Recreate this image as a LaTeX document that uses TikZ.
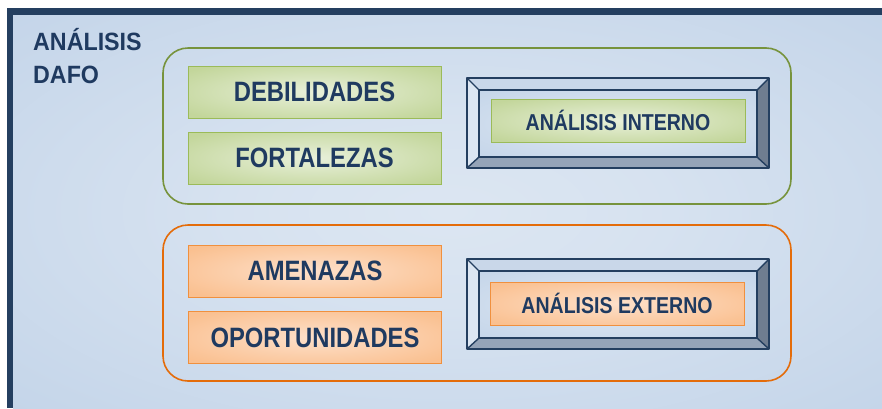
\documentclass[tikz,border=0pt]{standalone}
\usepackage{fontspec}
\setmainfont{Liberation Sans}[FakeStretch=0.85]
\newfontfamily\titlefont{Liberation Sans}[FakeStretch=0.93]
\usetikzlibrary{positioning}

\definecolor{navy}{HTML}{243F60}
\definecolor{txt}{HTML}{1F3A60}
\definecolor{bgdark}{HTML}{B9CDE5}
\definecolor{bglight}{HTML}{DCE6F2}
\definecolor{grline}{HTML}{77933C}
\definecolor{grbord}{HTML}{9BBB59}
\definecolor{grdark}{HTML}{C3D69B}
\definecolor{grlight}{HTML}{E8F0DA}
\definecolor{orline}{HTML}{E46C0A}
\definecolor{orbord}{HTML}{F0903E}
\definecolor{ordark}{HTML}{FAC090}
\definecolor{orlight}{HTML}{FDE0CA}
\definecolor{bvtop}{HTML}{C9D7E9}
\definecolor{bvleft}{HTML}{DCE6F2}
\definecolor{bvright}{HTML}{6F7D90}
\definecolor{bvbottom}{HTML}{95A4B8}

\pgfdeclareradialshading{bgglow}{\pgfpoint{0bp}{0bp}}{color(0bp)=(bglight); color(12bp)=(bglight!85!bgdark); color(50bp)=(bgdark)}
\pgfdeclareradialshading{grglow}{\pgfpoint{0bp}{0bp}}{color(0bp)=(grlight); color(32bp)=(grdark); color(50bp)=(grdark)}
\pgfdeclareradialshading{orglow}{\pgfpoint{0bp}{0bp}}{color(0bp)=(orlight); color(32bp)=(ordark); color(50bp)=(ordark)}

\tikzset{
  group/.style = {draw, line width=1.6pt, rounded corners=25pt, inner sep=0pt,
                  minimum width=628pt, minimum height=156pt},
  itembox/.style = {draw, line width=1pt, inner sep=0pt, text=txt,
                    minimum width=253pt, minimum height=52pt,
                    font=\bfseries\fontsize{28}{30}\selectfont},
  labelbox/.style = {draw, line width=1pt, inner sep=0pt, text=txt,
                     minimum width=254pt, minimum height=43pt,
                     font=\bfseries\fontsize{23}{25}\selectfont},
  bevel/.style = {draw=navy, line width=1.4pt, line join=round}
}

\begin{document}
\begin{tikzpicture}[x=1pt, y=-1pt]
  \useasboundingbox (0,0) rectangle (882,408);
  % page and frame
  \fill[white] (0,0) rectangle (882,408);
  \fill[navy] (7,8) rectangle (882,408);
  \shade[shading=bgglow] (13,15) rectangle (882,408);

  \node[anchor=base west, inner sep=0pt, text=txt, font=\titlefont\bfseries\fontsize{25}{27}\selectfont]
    (title1) at (33,50) {ANÁLISIS};
  \node[anchor=base west, inner sep=0pt, text=txt, font=\titlefont\bfseries\fontsize{25}{27}\selectfont]
    (title2) at (33,83) {DAFO};

  % groups
  \node[group, draw=grline] (internal) at (477,126) {};
  \node[group, draw=orline] (external) at (477,303) {};

  \node[itembox, draw=grbord, shading=grglow] (deb) at (314.5,92) {DEBILIDADES};
  \node[itembox, draw=grbord, shading=grglow] (fort) at (314.5,158) {FORTALEZAS};
  \node[itembox, draw=orbord, shading=orglow] (amen) at (315,271) {AMENAZAS};
  \node[itembox, draw=orbord, shading=orglow] (oport) at (315,337.5) {OPORTUNIDADES};

  % bevelled frames
  \foreach \dy/\tag in {0/int, 181/ext} {
    \coordinate (\tag oA) at (467,78+\dy);
    \coordinate (\tag oB) at (769,78+\dy);
    \coordinate (\tag oC) at (769,168+\dy);
    \coordinate (\tag oD) at (467,168+\dy);
    \coordinate (\tag iA) at (479,90+\dy);
    \coordinate (\tag iB) at (757,90+\dy);
    \coordinate (\tag iC) at (757,157+\dy);
    \coordinate (\tag iD) at (479,157+\dy);
    \fill[bvtop] (\tag oA) -- (\tag oB) -- (\tag iB) -- (\tag iA) -- cycle;
    \fill[bvright] (\tag oB) -- (\tag oC) -- (\tag iC) -- (\tag iB) -- cycle;
    \fill[bvbottom] (\tag oC) -- (\tag oD) -- (\tag iD) -- (\tag iC) -- cycle;
    \fill[bvleft] (\tag oD) -- (\tag oA) -- (\tag iA) -- (\tag iD) -- cycle;
    \shade[shading=bgglow] (\tag iA) rectangle (\tag iC);
    \draw[bevel] (\tag oA) rectangle (\tag oC);
    \draw[bevel] (\tag iA) rectangle (\tag iC);
    \draw[bevel] (\tag oA) -- (\tag iA) (\tag oB) -- (\tag iB)
                 (\tag oC) -- (\tag iC) (\tag oD) -- (\tag iD);
  }

  \node[labelbox, draw=grbord, shading=grglow] (intlabel) at (618,120.5) {ANÁLISIS INTERNO};
  \node[labelbox, draw=orbord, shading=orglow] (extlabel) at (617,303.5) {ANÁLISIS EXTERNO};
\end{tikzpicture}
\end{document}
